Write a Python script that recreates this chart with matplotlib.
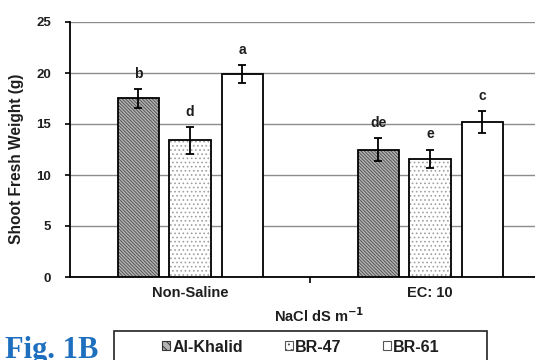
import matplotlib
matplotlib.use("Agg")
import matplotlib.pyplot as plt
import numpy as np
from matplotlib.patches import Patch, Rectangle

plt.rcParams['font.family'] = ['Liberation Sans', 'DejaVu Sans']
plt.rcParams['hatch.linewidth'] = 0.7

categories = ["Non-Saline", "EC: 10"]
varieties = ["Al-Khalid", "BR-47", "BR-61"]
values = {
    "Al-Khalid": [17.5, 12.5],
    "BR-47": [13.4, 11.6],
    "BR-61": [19.9, 15.2],
}
errors = {
    "Al-Khalid": [0.9, 1.1],
    "BR-47": [1.3, 0.9],
    "BR-61": [0.9, 1.1],
}
letters = {
    "Al-Khalid": ["b", "de"],
    "BR-47": ["d", "e"],
    "BR-61": ["a", "c"],
}
yticks = [0, 5, 10, 15, 20, 25]

TXT = '#1e1e1e'
fig = plt.figure(figsize=(5.35, 3.6), dpi=100)
ax = fig.add_axes([70/535, 83/360, 465/535, 255/360])

x = np.arange(len(categories))
offsets = [-0.215, 0.0, 0.217]
width = 0.171
styles = {
    "Al-Khalid": dict(face='#b4b4b4', hatch='\\' * 10, hcolor='#555555'),
    "BR-47": dict(face='white', hatch='.' * 4, hcolor='#a0a0a0'),
    "BR-61": dict(face='white', hatch=None, hcolor='black'),
}

for i, v in enumerate(varieties):
    xs = x + offsets[i]
    st = styles[v]
    if st['hatch']:
        ax.bar(xs, values[v], width, color=st['face'], edgecolor=st['hcolor'],
               hatch=st['hatch'], linewidth=0, zorder=3)
    else:
        ax.bar(xs, values[v], width, color=st['face'], linewidth=0, zorder=3)
    ax.bar(xs, values[v], width, fill=False, edgecolor='black', linewidth=1.3, zorder=4)
    ax.errorbar(xs, values[v], yerr=errors[v], fmt='none', ecolor='black',
                elinewidth=1.3, capsize=3, capthick=1.3, zorder=5)
    for xi, val, err, lab in zip(xs, values[v], errors[v], letters[v]):
        ax.text(xi, val + err + 0.8, lab, ha='center', va='bottom',
                fontsize=10, fontweight='bold', color=TXT)

ax.set_xlim(-0.5, 1.4375)
ax.set_ylim(0, 25)
ax.set_yticks(yticks)
ax.set_yticklabels([str(t) for t in yticks], fontsize=9.5, fontweight='bold', color=TXT)
ax.yaxis.grid(True, color='#8c8c8c', linewidth=1.0, zorder=0)
ax.set_axisbelow(True)
ax.tick_params(axis='y', direction='out', length=3.6, width=1.2, pad=10)
ax.set_xticks([0.5])
ax.set_xticklabels([''])
ax.tick_params(axis='x', direction='out', length=4, width=1.2)
for xi, c in zip(x, categories):
    ax.text(xi, -1.6, c, ha='center', va='center', fontsize=10.5,
            fontweight='bold', color=TXT)
ax.text(0.54, -3.75, r'NaCl dS m$^{\mathbf{-1}}$', ha='center', va='center',
        fontsize=10.5, fontweight='bold', color=TXT)

for s in ['top', 'right']:
    ax.spines[s].set_visible(False)
ax.spines['left'].set_linewidth(1.3)
ax.spines['bottom'].set_linewidth(1.3)

fig.text(17/535, 1 - 159/360, 'Shoot Fresh Weight (g)', rotation=90,
         ha='center', va='center', fontsize=11.2, fontweight='bold', color=TXT)

# legend box
fig.add_artist(Rectangle((114/535, -5/360), 373/535, 34/360, transform=fig.transFigure,
                         facecolor='white', edgecolor='#222222', linewidth=1.2))
handles = [
    Patch(facecolor='#b4b4b4', edgecolor='#333333', hatch='\\\\\\\\', linewidth=0.8),
    Patch(facecolor='white', edgecolor='#555555', hatch='...', linewidth=0.8),
    Patch(facecolor='white', edgecolor='#555555', linewidth=0.8),
]
leg = fig.legend(handles, varieties, loc='center',
                 bbox_to_anchor=(301/535, 1 - 347/360),
                 ncol=3, frameon=False, columnspacing=2.6,
                 handlelength=0.5, handleheight=0.5, handletextpad=0.15,
                 borderpad=0.0, prop={'weight': 'bold', 'size': 11.5})
for t in leg.get_texts():
    t.set_color(TXT)

fig.text(5/535, 2/360, 'Fig. 1B', ha='left', va='baseline',
         fontsize=22, fontweight='bold', color='#1f6fbf', family='Liberation Serif')

fig.savefig('out.png', dpi=100)
